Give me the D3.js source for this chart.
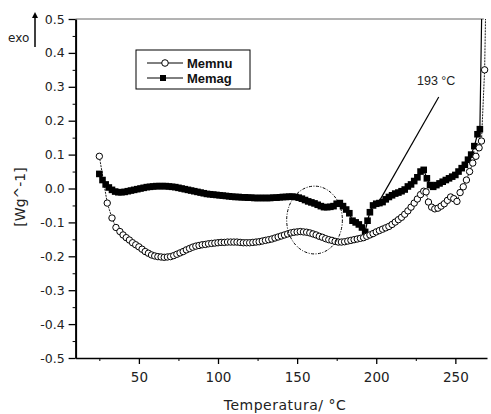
<!DOCTYPE html>
<html>
<head>
<meta charset="utf-8">
<script src="https://cdn.jsdelivr.net/npm/d3@7"></script>
<style>
  body { margin: 0; background: #fff; }
  svg { display: block; font-family: "DejaVu Sans", sans-serif; }
</style>
</head>
<body>
<svg id="chart" width="491" height="414"></svg>
<script>
// Memnu (open circles)
const memnuTemp = [25, 30, 33, 35.5, 38, 40, 42, 44, 46, 48, 50, 52, 54, 56, 58, 60, 62, 64, 66, 68,
  70, 72, 74, 76, 78, 80, 82, 84, 86, 88, 90, 92, 94, 96, 98, 100, 102, 104, 106, 108,
  110, 112, 114, 116, 118, 120, 122, 124, 126, 128, 130, 132, 134, 136, 138, 140, 142, 144, 146, 148,
  150, 152, 154, 156, 158, 160, 162, 164, 166, 168, 170, 172, 174, 176, 178, 180, 182, 184, 186, 188,
  190, 192, 194, 196, 198, 200, 202, 204, 206, 208, 210, 212, 214, 216, 218, 220, 222, 224, 226, 228,
  230, 231.5, 233, 235, 237, 239, 241, 243, 245, 247, 249, 251, 253, 255, 257, 259, 261, 263, 265, 266.5,
  268.5, 269.5];
const memnuVal = [0.095, -0.043, -0.087, -0.115, -0.127, -0.137, -0.145, -0.152, -0.16, -0.166,
  -0.172, -0.179, -0.186, -0.191, -0.196, -0.199, -0.201, -0.202, -0.203, -0.202,
  -0.201, -0.198, -0.194, -0.19, -0.186, -0.181, -0.177, -0.173, -0.17, -0.168,
  -0.166, -0.165, -0.163, -0.162, -0.161, -0.16, -0.159, -0.159, -0.158, -0.158,
  -0.158, -0.158, -0.159, -0.16, -0.16, -0.16, -0.159, -0.158, -0.157, -0.155,
  -0.153, -0.151, -0.149, -0.146, -0.143, -0.14, -0.137, -0.134, -0.131, -0.129,
  -0.128, -0.127, -0.128, -0.129, -0.131, -0.134, -0.137, -0.141, -0.144, -0.148,
  -0.151, -0.153, -0.156, -0.158, -0.158, -0.157, -0.155, -0.153, -0.151, -0.149,
  -0.147, -0.145, -0.141, -0.137, -0.133, -0.128, -0.124, -0.12, -0.116, -0.112,
  -0.106, -0.099, -0.092, -0.085, -0.076, -0.066, -0.055, -0.043, -0.031, -0.018,
  -0.008, -0.01, -0.04, -0.055, -0.06, -0.058, -0.052, -0.045, -0.035, -0.025,
  -0.03, -0.038, -0.012, 0.005, 0.025, 0.05, 0.075, 0.095, 0.12, 0.14,
  0.35, 0.62];

// Memag (filled squares)
const memagTemp = [25, 27, 29, 31, 33, 35, 37, 39, 41, 43, 45, 47, 49, 51, 53, 55, 57, 59, 61, 63,
  65, 67, 69, 71, 73, 75, 77, 79, 81, 83, 85, 87, 89, 91, 93, 95, 97, 99, 101, 103,
  105, 107, 109, 111, 113, 115, 117, 119, 121, 123, 125, 127, 129, 131, 133, 135, 137, 139, 141, 143,
  145, 147, 149, 151, 153, 155, 157, 159, 161, 163, 165, 167, 169, 171, 173, 175, 177, 179, 181, 183,
  185, 187, 189, 191, 193, 194.5, 196, 198, 200, 202, 204, 206, 208, 210, 212, 214, 216, 218, 220, 222,
  224, 226, 228, 230, 232, 234, 236, 238, 240, 242, 244, 246, 248, 250, 252, 254, 256, 258, 260, 262,
  264, 265.5, 267];
const memagVal = [0.043, 0.025, 0.012, 0.003, -0.004, -0.009, -0.011, -0.011, -0.01, -0.008,
  -0.006, -0.004, -0.002, 0.0, 0.002, 0.004, 0.005, 0.006, 0.007, 0.007,
  0.007, 0.007, 0.006, 0.005, 0.004, 0.002, 0.0, -0.002, -0.004, -0.006,
  -0.008, -0.01, -0.012, -0.014, -0.016, -0.017, -0.018, -0.019, -0.02, -0.021,
  -0.022, -0.023, -0.024, -0.025, -0.025, -0.026, -0.026, -0.027, -0.027, -0.028,
  -0.028, -0.028, -0.028, -0.028, -0.028, -0.027, -0.027, -0.026, -0.025, -0.025,
  -0.024, -0.024, -0.025, -0.027, -0.03, -0.034, -0.038, -0.041, -0.044, -0.048,
  -0.052, -0.055, -0.055, -0.054, -0.052, -0.045, -0.043, -0.052, -0.062, -0.073,
  -0.095, -0.1, -0.106, -0.115, -0.128, -0.095, -0.07, -0.05, -0.045, -0.043,
  -0.04, -0.032, -0.025, -0.02, -0.015, -0.012, -0.008, -0.003, 0.006, 0.012,
  0.022, 0.033, 0.05, 0.055, 0.03, 0.01, 0.005, 0.01, 0.015, 0.02,
  0.025, 0.03, 0.035, 0.04, 0.05, 0.06, 0.07, 0.085, 0.1, 0.125,
  0.16, 0.175, 0.62];

const xTicks = [50, 100, 150, 200, 250];
const xMinorTicks = [25, 75, 125, 175, 225];
const yTicks = [-0.5, -0.4, -0.3, -0.2, -0.1, 0.0, 0.1, 0.2, 0.3, 0.4, 0.5];
const yTickLabels = ["-0.5", "-0.4", "-0.3", "-0.2", "-0.1", "0.0", "0.1", "0.2", "0.3", "0.4", "0.5"];
const yMinorTicks = [-0.45, -0.35, -0.25, -0.15, -0.05, 0.05, 0.15, 0.25, 0.35, 0.45];

const seriesNames = ["Memnu", "Memag"];
const annotation = { label: "193 \u00B0C", from: [239.5, 0.27], to: [200.5, -0.049] };
const ellipse = { cx: 161, cy: -0.093, rx: 17.6, ry: 0.1 };

const svg = d3.select("#chart");

const x = d3.scaleLinear().domain([10, 270]).range([75.6, 487]);
const y = d3.scaleLinear().domain([-0.5, 0.5]).range([358, 19]);

svg.append("defs").append("clipPath").attr("id", "plot-clip")
  .append("rect")
  .attr("x", 76).attr("y", 19)
  .attr("width", 491 - 76).attr("height", 358 - 19);

// top frame line
svg.append("line")
  .attr("x1", x(10)).attr("x2", x(268))
  .attr("y1", y(0.5)).attr("y2", y(0.5))
  .attr("stroke", "#666").attr("stroke-width", 1);

// axes
const xAxis = svg.append("g")
  .attr("transform", `translate(0,${y(-0.5)})`)
  .call(d3.axisBottom(x).tickValues(xTicks).tickSize(6).tickSizeOuter(0).tickPadding(8));
xAxis.select(".domain").attr("stroke-width", 1.5);
xAxis.selectAll(".tick line").attr("stroke-width", 1.3);
xAxis.selectAll("text").attr("font-size", "13.5px").attr("font-family", "DejaVu Sans").attr("fill", "#222");

svg.append("g")
  .attr("transform", `translate(0,${y(-0.5)})`)
  .call(d3.axisBottom(x).tickValues(xMinorTicks).tickSize(3).tickFormat(""))
  .select(".domain").remove();

const yAxis = svg.append("g")
  .attr("transform", `translate(${x(10)},0)`)
  .call(d3.axisLeft(y).tickValues(yTicks).tickSize(7).tickSizeOuter(0).tickPadding(4)
    .tickFormat((d, i) => yTickLabels[i]));
yAxis.select(".domain").attr("stroke-width", 2);
yAxis.selectAll(".tick line").attr("stroke-width", 1.3);
yAxis.selectAll("text").attr("font-size", "12.5px").attr("font-family", "DejaVu Sans").attr("fill", "#222");

svg.append("g")
  .attr("transform", `translate(${x(10)},0)`)
  .call(d3.axisLeft(y).tickValues(yMinorTicks).tickSize(3).tickFormat(""))
  .select(".domain").remove();

// axis titles
svg.append("text")
  .attr("x", 285).attr("y", 410)
  .attr("text-anchor", "middle")
  .attr("font-size", "14px")
  .attr("letter-spacing", "0.5px")
  .attr("fill", "#222")
  .text("Temperatura/ \u00B0C");

svg.append("text")
  .attr("transform", "translate(25,197) rotate(-90)")
  .attr("text-anchor", "middle")
  .attr("font-size", "14px")
  .attr("fill", "#222")
  .text("[Wg^-1]");

// exo arrow
svg.append("text")
  .attr("x", 8).attr("y", 42)
  .attr("font-size", "12px")
  .attr("fill", "#222")
  .text("exo");
svg.append("line")
  .attr("x1", 35).attr("x2", 35).attr("y1", 15).attr("y2", 47)
  .attr("stroke", "#000").attr("stroke-width", 1.5);
svg.append("path")
  .attr("d", "M32,18 L35,12 L38,18 Z")
  .attr("fill", "#000");

// data
const memnu = memnuTemp.map((t, i) => [t, memnuVal[i]]);
const memag = memagTemp.map((t, i) => [t, memagVal[i]]);

const line = d3.line().x(d => x(d[0])).y(d => y(d[1]));
const plot = svg.append("g").attr("clip-path", "url(#plot-clip)");

plot.append("path")
  .datum(memnu)
  .attr("fill", "none")
  .attr("stroke", "#000")
  .attr("stroke-width", 0.9)
  .attr("stroke-dasharray", "2,1")
  .attr("d", line);

plot.append("path")
  .datum(memag)
  .attr("fill", "none")
  .attr("stroke", "#000")
  .attr("stroke-width", 1.2)
  .attr("d", line);

plot.selectAll(".memag")
  .data(memag)
  .enter()
  .append("rect")
  .attr("class", "memag")
  .attr("x", d => x(d[0]) - 3.3)
  .attr("y", d => y(d[1]) - 3.3)
  .attr("width", 6.6)
  .attr("height", 6.6)
  .attr("fill", "#000");

plot.selectAll(".memnu")
  .data(memnu)
  .enter()
  .append("circle")
  .attr("class", "memnu")
  .attr("cx", d => x(d[0]))
  .attr("cy", d => y(d[1]))
  .attr("r", 3.2)
  .attr("fill", "#fff")
  .attr("stroke", "#000")
  .attr("stroke-width", 1);

// dashed ellipse
svg.append("ellipse")
  .attr("cx", x(ellipse.cx))
  .attr("cy", y(ellipse.cy))
  .attr("rx", x(ellipse.cx + ellipse.rx) - x(ellipse.cx))
  .attr("ry", y(ellipse.cy - ellipse.ry) - y(ellipse.cy))
  .attr("fill", "none")
  .attr("stroke", "#000")
  .attr("stroke-width", 1)
  .attr("stroke-dasharray", "3,1.5,1,1.5");

// annotation
svg.append("line")
  .attr("x1", x(annotation.from[0])).attr("y1", y(annotation.from[1]))
  .attr("x2", x(annotation.to[0])).attr("y2", y(annotation.to[1]))
  .attr("stroke", "#000").attr("stroke-width", 1.2);
svg.append("text")
  .attr("x", 417).attr("y", 85)
  .attr("font-size", "12.5px")
  .attr("font-family", "Liberation Sans")
  .attr("fill", "#222")
  .text(annotation.label);

// legend
const legend = svg.append("g").attr("transform", "translate(136,50)");
legend.append("rect")
  .attr("width", 114).attr("height", 39)
  .attr("fill", "#fff")
  .attr("stroke", "#000")
  .attr("stroke-width", 1);

const legendRows = legend.selectAll(".row")
  .data(seriesNames)
  .enter()
  .append("g")
  .attr("transform", (d, i) => `translate(0,${13 + i * 15})`);

legendRows.append("line")
  .attr("x1", 11).attr("x2", 47)
  .attr("stroke", "#000").attr("stroke-width", 1);

legendRows.filter((d, i) => i === 0).append("circle")
  .attr("cx", 29).attr("r", 3.3)
  .attr("fill", "#fff").attr("stroke", "#000");

legendRows.filter((d, i) => i === 1).append("rect")
  .attr("x", 24).attr("y", -3).attr("width", 6).attr("height", 6)
  .attr("fill", "#000");

legendRows.append("text")
  .attr("x", 51).attr("y", 5)
  .attr("font-family", "Liberation Sans")
  .attr("font-weight", "bold")
  .attr("font-size", "13px")
  .attr("fill", "#111")
  .text(d => d);
</script>
</body>
</html>
